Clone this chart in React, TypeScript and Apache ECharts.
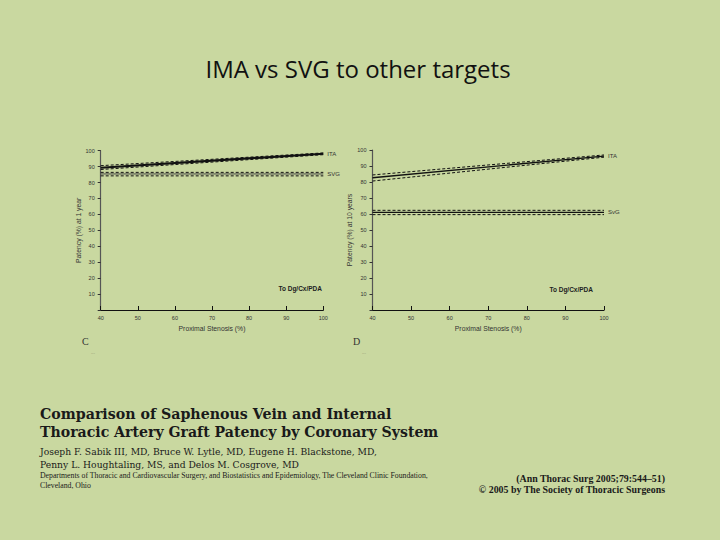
import React, { useEffect, useRef } from "react";
import * as echarts from "echarts";

// Data
const stenosis = [40, 100];

// Panel C: patency at 1 year
const itaOneYear = [89.3, 98.1];
const itaOneYearUpper = [90.6, 98.6];
const itaOneYearLower = [88.2, 97.5];
const svgOneYear = [85.4, 85.4];
const svgOneYearUpper = [86.4, 86.4];
const svgOneYearLower = [84.2, 84.2];

// Panel D: patency at 10 years
const itaTenYear = [82.7, 96.2];
const itaTenYearUpper = [84.4, 96.9];
const itaTenYearLower = [80.6, 95.5];
const svgTenYear = [61.0, 61.0];
const svgTenYearUpper = [62.3, 62.3];
const svgTenYearLower = [59.6, 59.6];

const BG = "#c9d8a0";
const SANS = "'Liberation Sans', Arial, sans-serif";
const SERIF = "'DejaVu Serif', serif";
const TIMES = "'Liberation Serif', 'Times New Roman', serif";

const pairs = (ys: number[]) => stenosis.map((x, i) => [x, ys[i]]);

function lineSeries(
  grid: number,
  ys: number[],
  opts: { width: number; dashed?: boolean; color?: string; label?: string }
) {
  return {
    type: "line",
    xAxisIndex: grid,
    yAxisIndex: grid,
    data: pairs(ys),
    showSymbol: false,
    symbol: "none",
    silent: true,
    lineStyle: {
      color: opts.color || "#111",
      width: opts.width,
      type: opts.dashed ? [3, 2] : "solid",
    },
    endLabel: opts.label
      ? {
          show: true,
          formatter: opts.label,
          fontSize: 6,
          fontFamily: SANS,
          color: "#333",
          distance: 4,
        }
      : { show: false },
  };
}

function xAxis(grid: number) {
  return {
    type: "value",
    gridIndex: grid,
    min: 40,
    max: 100,
    interval: 10,
    axisLine: { show: true, lineStyle: { color: "#111", width: 1.2 } },
    axisTick: { show: true, inside: true, length: 4, lineStyle: { color: "#111" } },
    axisLabel: { fontSize: 5.5, color: "#333", fontFamily: SANS, margin: 5 },
    splitLine: { show: false },
    name: "Proximal Stenosis (%)",
    nameLocation: "middle",
    nameGap: 15,
    nameTextStyle: { fontSize: 6.8, color: "#333", fontFamily: SANS },
  };
}

function yAxis(grid: number, name: string, gap: number) {
  return {
    type: "value",
    gridIndex: grid,
    min: 0,
    max: 100,
    interval: 10,
    axisLine: { show: true, lineStyle: { color: "#555", width: 1.2 } },
    axisTick: { show: true, length: 3, lineStyle: { color: "#333" } },
    axisLabel: {
      fontSize: 5.5,
      color: "#333",
      fontFamily: SANS,
      margin: 6,
      formatter: (v: number) => (v === 0 ? "" : String(v)),
    },
    splitLine: { show: false },
    name,
    nameLocation: "middle",
    nameGap: gap,
    nameTextStyle: { fontSize: 6.8, color: "#333", fontFamily: SANS },
  };
}

function txt(
  x: number,
  y: number,
  text: string,
  font: string,
  align: string = "left",
  fill: string = "#1a1a1a"
) {
  return {
    type: "text",
    x,
    y,
    silent: true,
    style: { text, font, fill, align, verticalAlign: "middle" },
  };
}

export default function App() {
  const ref = useRef<HTMLDivElement>(null);

  useEffect(() => {
    if (!ref.current) return;
    const chart = echarts.init(ref.current, null, { renderer: "svg" });
    chart.setOption({
      animation: false,
      backgroundColor: BG,
      grid: [
        { left: 100.7, top: 150.7, width: 222.6, height: 159.3 },
        { left: 372.5, top: 150, width: 231.5, height: 160 },
      ],
      xAxis: [xAxis(0), xAxis(1)],
      yAxis: [
        yAxis(0, "Patency (%) at 1 year", 17),
        yAxis(1, "Patency (%) at 10 years", 16),
      ],
      series: [
        lineSeries(0, itaOneYearUpper, { width: 1, dashed: true }),
        lineSeries(0, itaOneYearLower, { width: 1, dashed: true }),
        lineSeries(0, itaOneYear, { width: 2.2, label: "ITA" }),
        lineSeries(0, svgOneYearUpper, { width: 1, dashed: true }),
        lineSeries(0, svgOneYearLower, { width: 1, dashed: true }),
        lineSeries(0, svgOneYear, { width: 1, color: "#444", label: "SVG" }),
        lineSeries(1, itaTenYearUpper, { width: 1, dashed: true }),
        lineSeries(1, itaTenYearLower, { width: 1, dashed: true }),
        lineSeries(1, itaTenYear, { width: 1.4, label: "ITA" }),
        lineSeries(1, svgTenYearUpper, { width: 1, dashed: true }),
        lineSeries(1, svgTenYearLower, { width: 1, dashed: true }),
        lineSeries(1, svgTenYear, { width: 1.4, label: "SvG" }),
      ],
      graphic: [
        txt(358, 68, "IMA vs SVG to other targets", `24px 'Open Sans', sans-serif`, "center", "#111"),
        txt(322, 288, "To Dg/Cx/PDA", `bold 6.5px ${SANS}`, "right", "#222"),
        txt(593, 289, "To Dg/Cx/PDA", `bold 6.5px ${SANS}`, "right", "#222"),
        txt(82, 341, "C", `10px ${TIMES}`, "left", "#333"),
        txt(353, 341, "D", `10px ${TIMES}`, "left", "#333"),
        txt(91, 352, "---", `4px ${SANS}`, "left", "#7a8560"),
        txt(362, 352, "---", `4px ${SANS}`, "left", "#7a8560"),
        txt(40, 414, "Comparison of Saphenous Vein and Internal", `bold 14.2px ${SERIF}`),
        txt(40, 432, "Thoracic Artery Graft Patency by Coronary System", `bold 14.1px ${SERIF}`),
        txt(40, 451, "Joseph F. Sabik III, MD, Bruce W. Lytle, MD, Eugene H. Blackstone, MD,", `9.2px ${SERIF}`),
        txt(40, 464.5, "Penny L. Houghtaling, MS, and Delos M. Cosgrove, MD", `9.2px ${SERIF}`),
        txt(40, 475.5, "Departments of Thoracic and Cardiovascular Surgery, and Biostatistics and Epidemiology, The Cleveland Clinic Foundation,", `7.75px ${TIMES}`),
        txt(40, 485.5, "Cleveland, Ohio", `7.75px ${TIMES}`),
        txt(665, 478, "(Ann Thorac Surg 2005;79:544–51)", `bold 9.9px ${TIMES}`, "right"),
        txt(665, 489, "© 2005 by The Society of Thoracic Surgeons", `bold 9.9px ${TIMES}`, "right"),
      ],
    });
    return () => chart.dispose();
  }, []);

  return (
    <div
      ref={ref}
      style={{ position: "fixed", left: 0, top: 0, width: 720, height: 540 }}
    />
  );
}
